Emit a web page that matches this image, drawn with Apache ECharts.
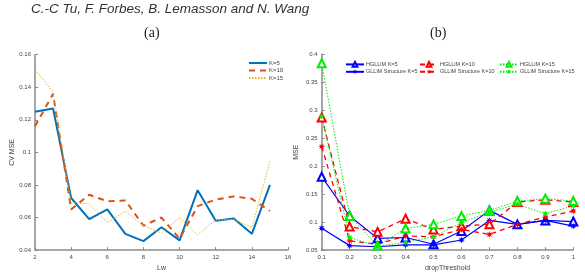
<!DOCTYPE html>
<html>
<head>
<meta charset="utf-8">
<script src="https://cdn.jsdelivr.net/npm/echarts@6/dist/echarts.min.js"></script>
<style>
html, body { margin: 0; padding: 0; background: #fff; }
#chart { width: 585px; height: 277px; }
</style>
</head>
<body>
<div id="chart"></div>
<script>
// (a) CV MSE vs Lw
var lw = [2, 3, 4, 5, 6, 7, 8, 9, 10, 11, 12, 13, 14, 15]
var cvK5 = [0.125, 0.127, 0.072, 0.059, 0.065, 0.050, 0.0455, 0.054, 0.046, 0.0768, 0.058, 0.0594, 0.050, 0.080]
var cvK10 = [0.116, 0.136, 0.065, 0.074, 0.070, 0.0705, 0.055, 0.060, 0.047, 0.067, 0.071, 0.073, 0.0715, 0.064]
var cvK15 = [0.151, 0.137, 0.069, 0.0685, 0.057, 0.0638, 0.055, 0.0505, 0.060, 0.0494, 0.0585, 0.0588, 0.054, 0.0944]

// (b) MSE vs dropThreshold
var thr = [0.1, 0.2, 0.3, 0.4, 0.5, 0.6, 0.7, 0.8, 0.9, 1]
var hK5 = [0.181, 0.111, 0.071, 0.0725, 0.0605, 0.084, 0.121, 0.096, 0.103, 0.101]
var gK5 = [0.089, 0.058, 0.056, 0.0594, 0.0594, 0.068, 0.103, 0.096, 0.103, 0.093]
var hK10 = [0.287, 0.092, 0.0826, 0.106, 0.087, 0.093, 0.096, 0.136, 0.140, 0.136]
var gK10 = [0.235, 0.0665, 0.0607, 0.0754, 0.0737, 0.087, 0.078, 0.096, 0.109, 0.120]
var hK15 = [0.384, 0.111, 0.058, 0.0885, 0.096, 0.111, 0.121, 0.1376, 0.142, 0.1376]
var gK15 = [0.289, 0.0725, 0.0565, 0.0637, 0.074, 0.099, 0.118, 0.132, 0.115, 0.129]

function pairs (xs, ys) {
  var out = []
  for (var i = 0; i < xs.length; i++) out.push([xs[i], ys[i]])
  return out
}

// asterisk-like star marker
function starPath () {
  var s = 'path://'
  for (var i = 0; i < 16; i++) {
    var r = i % 2 === 0 ? 10 : 4.5
    var a = Math.PI * i / 8 - Math.PI / 2
    s += (i === 0 ? 'M' : 'L') + (10 + r * Math.cos(a)).toFixed(2) + ',' + (10 + r * Math.sin(a)).toFixed(2)
  }
  return s + 'Z'
}
var STAR = starPath()

var FONT = 'Liberation Sans'
var axisCol = '#8a8a8a'
var labCol = '#444'

function baseAxis (extra) {
  var ax = {
    type: 'value',
    axisLine: { show: true, onZero: false, lineStyle: { color: axisCol, width: 1.5 } },
    axisTick: { show: true, inside: true, length: 3, lineStyle: { color: axisCol } },
    axisLabel: { color: labCol, fontSize: 6, fontFamily: FONT, margin: 4 },
    splitLine: { show: false },
    nameLocation: 'middle',
    nameTextStyle: { color: labCol, fontSize: 7, fontFamily: FONT }
  }
  for (var k in extra) ax[k] = extra[k]
  return ax
}

function rightLegend (left, names) {
  return { orient: 'vertical', left: left, top: 61, padding: 0, itemWidth: 18, itemHeight: 6, itemGap: 1,
    textStyle: { fontSize: 5.5, fontFamily: FONT, color: labCol, padding: [0, 0, 0, -3] },
    data: names }
}

var chart = echarts.init(document.getElementById('chart'))
var option = {
  animation: false,
  title: [
    { text: 'C.-C Tu, F. Forbes, B. Lemasson and N. Wang', left: 26, top: -3,
      textStyle: { fontFamily: FONT, fontStyle: 'italic', fontWeight: 'normal', fontSize: 13.5, color: '#333' } },
    { text: '(a)', left: 139, top: 21,
      textStyle: { fontFamily: 'Liberation Serif', fontWeight: 'normal', fontSize: 14, color: '#222' } },
    { text: '(b)', left: 425, top: 21,
      textStyle: { fontFamily: 'Liberation Serif', fontWeight: 'normal', fontSize: 14, color: '#222' } }
  ],
  legend: [
    { orient: 'vertical', left: 248, top: 60, padding: 0, itemWidth: 18, itemHeight: 5, itemGap: 1.5,
      itemStyle: { opacity: 0 },
      textStyle: { fontSize: 6, fontFamily: FONT, color: labCol, padding: [0, 0, 0, -3] },
      data: ['K=5', 'K=10', 'K=15'] },
    rightLegend(345, ['HGLLiM K=5', 'GLLiM Structure K=5']),
    rightLegend(419, ['HGLLiM K=10', 'GLLiM Structure K=10']),
    rightLegend(499, ['HGLLiM K=15', 'GLLiM Structure K=15'])
  ],
  grid: [
    { left: 35, right: 297, top: 54.7, bottom: 22 },
    { left: 321.7, right: 11.7, top: 54.3, bottom: 26 }
  ],
  xAxis: [
    baseAxis({ gridIndex: 0, min: 2, max: 16, interval: 2, name: 'Lw', nameGap: 11 }),
    baseAxis({ gridIndex: 1, min: 0.1, max: 1, interval: 0.1, name: 'dropThreshold', nameGap: 13 })
  ],
  yAxis: [
    baseAxis({ gridIndex: 0, min: 0.04, max: 0.16, interval: 0.02, name: 'CV MSE', nameGap: 19 }),
    baseAxis({ gridIndex: 1, min: 0.05, max: 0.4, interval: 0.05, name: 'MSE', nameGap: 22 })
  ],
  series: [
    { name: 'K=5', type: 'line', xAxisIndex: 0, yAxisIndex: 0, symbol: 'none',
      color: '#0072BD', lineStyle: { width: 2 }, data: pairs(lw, cvK5) },
    { name: 'K=10', type: 'line', xAxisIndex: 0, yAxisIndex: 0, symbol: 'none',
      color: '#D95319', lineStyle: { width: 2, type: [6, 5] }, data: pairs(lw, cvK10) },
    { name: 'K=15', type: 'line', xAxisIndex: 0, yAxisIndex: 0, symbol: 'none',
      color: '#EDB120', lineStyle: { width: 1, type: [1.5, 1.5] }, data: pairs(lw, cvK15) },

    { name: 'HGLLiM K=5', type: 'line', xAxisIndex: 1, yAxisIndex: 1, symbol: 'emptyTriangle', symbolSize: 8,
      color: '#0000ff', itemStyle: { borderWidth: 1 }, lineStyle: { width: 1.2 }, data: pairs(thr, hK5) },
    { name: 'GLLiM Structure K=5', type: 'line', xAxisIndex: 1, yAxisIndex: 1, symbol: STAR, symbolSize: 7,
      color: '#0000ff', lineStyle: { width: 1.2 }, data: pairs(thr, gK5) },
    { name: 'HGLLiM K=10', type: 'line', xAxisIndex: 1, yAxisIndex: 1, symbol: 'emptyTriangle', symbolSize: 8,
      color: '#ff0000', itemStyle: { borderWidth: 1 }, lineStyle: { width: 1.3, type: [5, 4] }, data: pairs(thr, hK10) },
    { name: 'GLLiM Structure K=10', type: 'line', xAxisIndex: 1, yAxisIndex: 1, symbol: STAR, symbolSize: 7,
      color: '#ff0000', lineStyle: { width: 1.3, type: [5, 4] }, data: pairs(thr, gK10) },
    { name: 'HGLLiM K=15', type: 'line', xAxisIndex: 1, yAxisIndex: 1, symbol: 'emptyTriangle', symbolSize: 8,
      color: '#00ee00', itemStyle: { borderWidth: 1 }, lineStyle: { width: 1, type: [1.5, 1.5] }, data: pairs(thr, hK15) },
    { name: 'GLLiM Structure K=15', type: 'line', xAxisIndex: 1, yAxisIndex: 1, symbol: STAR, symbolSize: 7,
      color: '#00ee00', lineStyle: { width: 1, type: [1.5, 1.5] }, data: pairs(thr, gK15) }
  ]
}
chart.setOption(option)
</script>
</body>
</html>
